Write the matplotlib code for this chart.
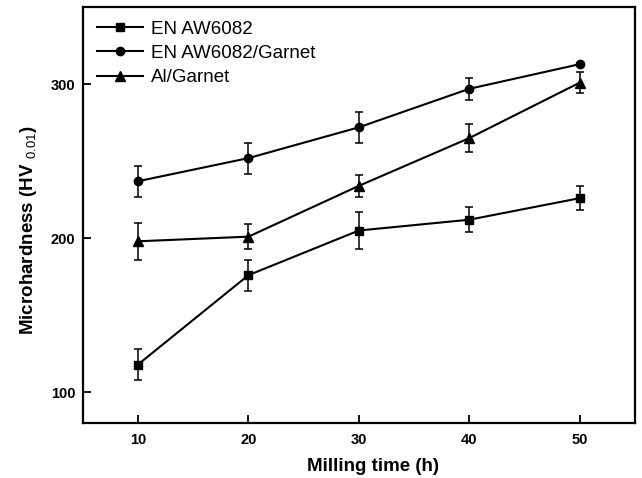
import matplotlib
matplotlib.use("Agg")
import matplotlib.pyplot as plt

plt.rcParams['font.family'] = ['Liberation Sans', 'DejaVu Sans']
plt.rcParams['mathtext.fontset'] = 'custom'
plt.rcParams['mathtext.rm'] = 'Liberation Sans'
plt.rcParams['mathtext.bf'] = 'Liberation Sans:bold'

# milling time (h)
milling_time = [10, 20, 30, 40, 50]

# microhardness values
aw6082 = [118, 176, 205, 212, 226]
aw6082_err = [10, 10, 12, 8, 8]

aw6082_garnet = [237, 252, 272, 297, 313]
aw6082_garnet_err = [10, 10, 10, 7, 1]

al_garnet = [198, 201, 234, 265, 301]
al_garnet_err = [12, 8, 7, 9, 7]

labels = ["EN AW6082", "EN AW6082/Garnet", "Al/Garnet"]

fig = plt.figure(figsize=(6.42, 4.78), dpi=100)
ax = fig.add_axes([0.129, 0.115, 0.860, 0.870])

series = [(aw6082, aw6082_err, 's', 5.5), (aw6082_garnet, aw6082_garnet_err, 'o', 6.0),
          (al_garnet, al_garnet_err, '^', 6.5)]
for (vals, errs, mk, ms), lab in zip(series, labels):
    ax.errorbar(milling_time, vals, yerr=errs, color='black', marker=mk,
                markersize=ms, linewidth=1.5, elinewidth=1.1, capsize=3,
                capthick=1.1, label=lab)

ax.set_xlim(5, 55)
ax.set_ylim(80, 350)
ax.set_xticks(milling_time)
ax.set_yticks([100, 200, 300])

ax.tick_params(direction='in', length=6, width=1.3, labelsize=10.5)
ax.tick_params(axis='x', pad=7)
ax.tick_params(axis='y', pad=5.5)
for lbl in ax.get_xticklabels() + ax.get_yticklabels():
    lbl.set_fontweight('bold')
for sp in ax.spines.values():
    sp.set_linewidth(1.6)

ax.set_xlabel('Milling time (h)', fontsize=13.5, fontweight='bold')
ax.xaxis.set_label_coords(0.525, -0.084)
ax.set_ylabel(r'Microhardness (HV $_{0.01}$)', fontsize=13.5, fontweight='bold')
ax.yaxis.set_label_coords(-0.08, 0.464)

# legend with handles on the line only (no error bars)
handles, labs = ax.get_legend_handles_labels()
handles = [h[0] for h in handles]
ax.legend(handles, labs, loc='upper left', bbox_to_anchor=(0.006, 0.995),
          frameon=False, fontsize=13.5, handlelength=2.45, handletextpad=0.4,
          borderaxespad=0.3, labelspacing=0.38, borderpad=0.3)

plt.savefig("out.png", dpi=100)
